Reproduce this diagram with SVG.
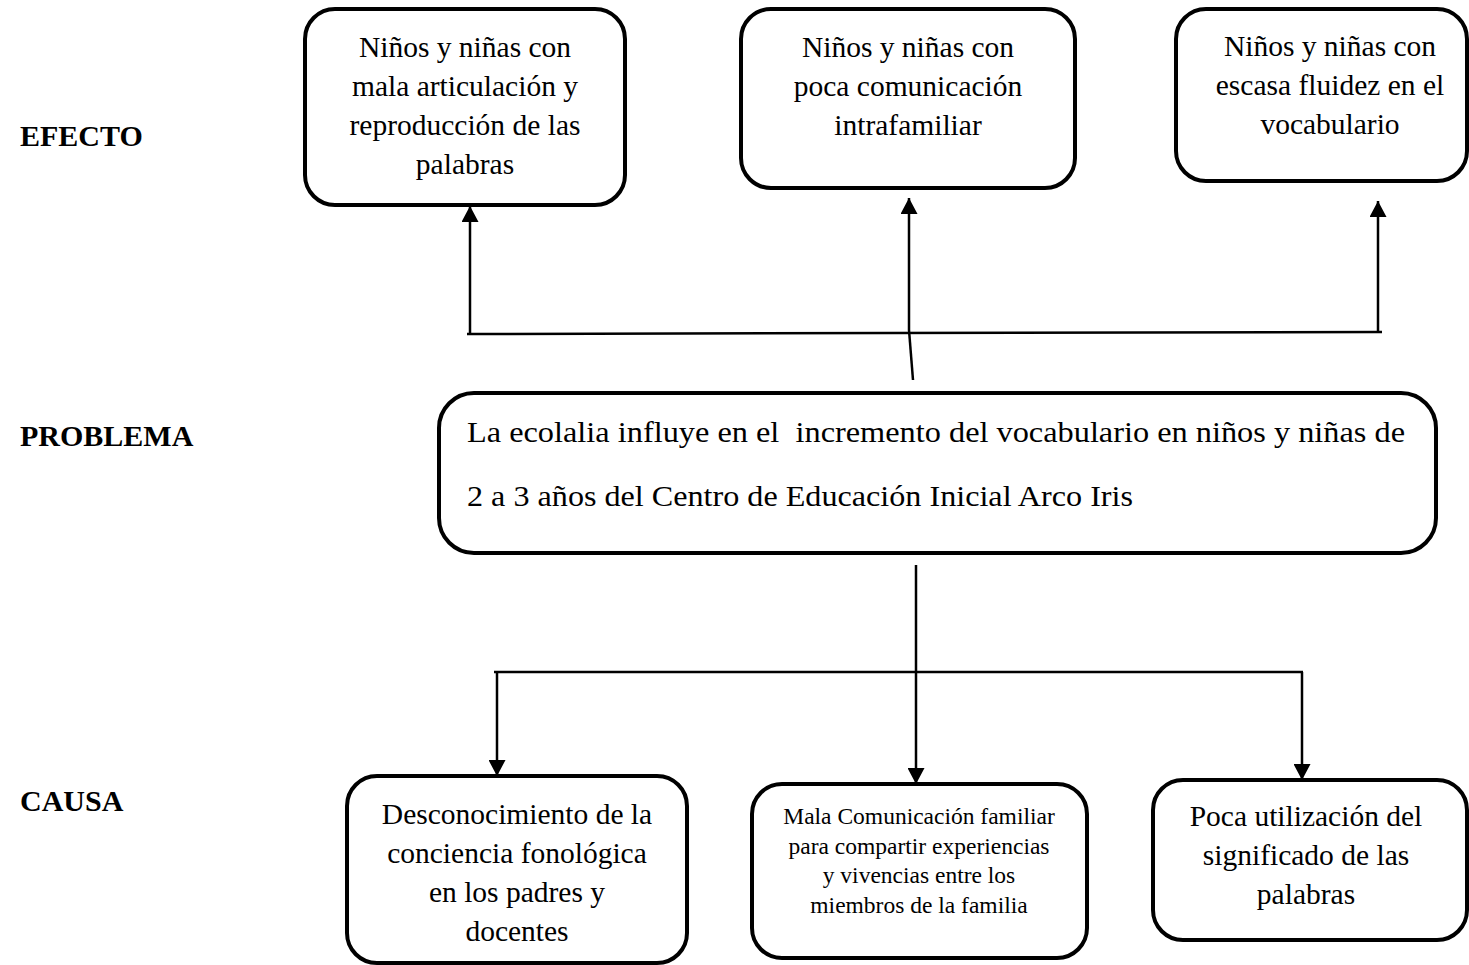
<svg xmlns="http://www.w3.org/2000/svg" width="1469" height="965" viewBox="0 0 1469 965">
<style>
.box{fill:#fff;stroke:#000;stroke-width:4}
.t{font-family:"Liberation Serif","Times New Roman",serif;font-size:29.5px;fill:#000;text-anchor:middle}
.ts{font-family:"Liberation Serif","Times New Roman",serif;font-size:23.5px;fill:#000;text-anchor:middle}
.tp{font-family:"Liberation Serif","Times New Roman",serif;font-size:30px;fill:#000;white-space:pre}
.lbl{font-family:"Liberation Serif","Times New Roman",serif;font-size:30px;font-weight:bold;fill:#000}
.c{stroke:#000;stroke-width:2.5;fill:none}
</style>
<defs>
<marker id="ah" markerWidth="16" markerHeight="17" refX="16" refY="8.5" orient="auto" markerUnits="userSpaceOnUse">
<path d="M0,0 L16,8.5 L0,17 z" fill="#000"/>
</marker>
</defs>
<rect width="1469" height="965" fill="#fff"/>
<g id="labels">
<text class="lbl" x="20" y="146">EFECTO</text>
<text class="lbl" x="20" y="446">PROBLEMA</text>
<text class="lbl" x="20" y="811">CAUSA</text>
</g>
<g id="connectors">
<line class="c" x1="467" y1="334" x2="1382" y2="332"/>
<line class="c" x1="470" y1="334" x2="470" y2="206" marker-end="url(#ah)"/>
<line class="c" x1="909" y1="330" x2="909" y2="198" marker-end="url(#ah)"/>
<line class="c" x1="909" y1="330" x2="913" y2="380"/>
<line class="c" x1="1378" y1="331" x2="1378" y2="201" marker-end="url(#ah)"/>
<line class="c" x1="916" y1="565" x2="916" y2="784" marker-end="url(#ah)"/>
<line class="c" x1="494" y1="672" x2="1303" y2="672"/>
<line class="c" x1="497" y1="672" x2="497" y2="776" marker-end="url(#ah)"/>
<line class="c" x1="1302" y1="672" x2="1302" y2="780" marker-end="url(#ah)"/>
</g>
<g id="efecto1">
<rect class="box" x="305" y="9" width="320" height="196" rx="30"/>
<text class="t" x="465" y="57">Niños y niñas con</text>
<text class="t" x="465" y="96">mala articulación y</text>
<text class="t" x="465" y="135">reproducción de las</text>
<text class="t" x="465" y="174">palabras</text>
</g>
<g id="efecto2">
<rect class="box" x="741" y="9" width="334" height="179" rx="30"/>
<text class="t" x="908" y="57">Niños y niñas con</text>
<text class="t" x="908" y="96">poca comunicación</text>
<text class="t" x="908" y="135">intrafamiliar</text>
</g>
<g id="efecto3">
<rect class="box" x="1176" y="9" width="291" height="172" rx="30"/>
<text class="t" x="1330" y="56">Niños y niñas con</text>
<text class="t" x="1330" y="95">escasa fluidez en el</text>
<text class="t" x="1330" y="134">vocabulario</text>
</g>
<g id="problema">
<rect class="box" x="439" y="393" width="997" height="160" rx="35"/>
<text class="tp" x="467" y="442" textLength="938" lengthAdjust="spacingAndGlyphs">La ecolalia influye en el  incremento del vocabulario en niños y niñas de</text>
<text class="tp" x="467" y="506" textLength="666" lengthAdjust="spacingAndGlyphs">2 a 3 años del Centro de Educación Inicial Arco Iris</text>
</g>
<g id="causa1">
<rect class="box" x="347" y="776" width="340" height="187" rx="30"/>
<text class="t" x="517" y="824">Desconocimiento de la</text>
<text class="t" x="517" y="863">conciencia fonológica</text>
<text class="t" x="517" y="902">en los padres y</text>
<text class="t" x="517" y="941">docentes</text>
</g>
<g id="causa2">
<rect class="box" x="752" y="784" width="335" height="174" rx="30"/>
<text class="ts" x="919" y="824">Mala Comunicación familiar</text>
<text class="ts" x="919" y="854">para compartir experiencias</text>
<text class="ts" x="919" y="883">y vivencias entre los</text>
<text class="ts" x="919" y="913">miembros de la familia</text>
</g>
<g id="causa3">
<rect class="box" x="1153" y="780" width="314" height="160" rx="30"/>
<text class="t" x="1306" y="826">Poca utilización del</text>
<text class="t" x="1306" y="865">significado de las</text>
<text class="t" x="1306" y="904">palabras</text>
</g>
</svg>
